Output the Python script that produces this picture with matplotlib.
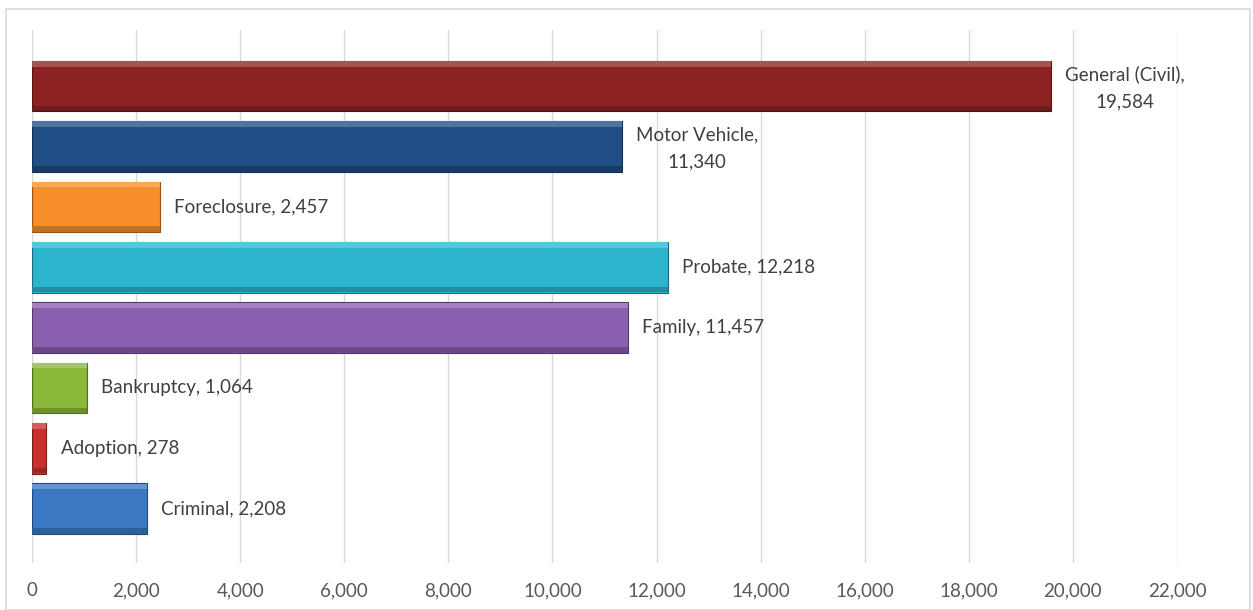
import matplotlib
matplotlib.use('Agg')
from matplotlib import pyplot as plt
from matplotlib.patches import Rectangle
from matplotlib.ticker import FuncFormatter
import numpy as np

plt.rcParams['font.family'] = ['Lato', 'DejaVu Sans']

# bottom to top
categories = ['Criminal', 'Adoption', 'Bankruptcy', 'Family', 'Probate',
              'Foreclosure', 'Motor Vehicle', 'General (Civil)']
values = [2208, 278, 1064, 11457, 12218, 2457, 11340, 19584]
colors = ['#3a78c4', '#c8302f', '#8ab838', '#8a5fb0', '#2cb4cf',
          '#f78f2a', '#1f4d84', '#8c2222']
two_line = ['Motor Vehicle', 'General (Civil)']


def shade(c, f):
    rgb = np.array(matplotlib.colors.to_rgb(c))
    if f > 0:
        rgb = rgb + (1 - rgb) * f
    else:
        rgb = rgb * (1 + f)
    return tuple(rgb)


fig = plt.figure(figsize=(12.53, 6.10), dpi=100)
fig.add_artist(Rectangle((6 / 1253, 0.0), 1244 / 1253, 601 / 610,
                         transform=fig.transFigure, fill=False,
                         edgecolor='#d9d9d9', linewidth=1.2))
ax = fig.add_axes([32 / 1253, 47 / 610, 1145 / 1253, 533 / 610])

y = np.arange(len(categories))
h = 0.84
ax.barh(y, values, h, color=colors, edgecolor=[shade(c, -0.4) for c in colors],
        linewidth=0.8, zorder=3)
# bevel: light top strip, dark bottom strip
ax.barh(y + h / 2 - 0.05, values, 0.09, color=[shade(c, 0.22) for c in colors],
        linewidth=0, zorder=4)
ax.barh(y - h / 2 + 0.05, values, 0.09, color=[shade(c, -0.22) for c in colors],
        linewidth=0, zorder=4)

for yi, cat, v in zip(y, categories, values):
    if cat in two_line:
        txt = f'{cat},\n{v:,}'
        ax.text(v + 270, yi - 0.03, txt, ha='left', va='center', multialignment='center',
                fontsize=13.5, color='#404040', linespacing=1.75, zorder=5)
    else:
        ax.text(v + 270, yi, f'{cat}, {v:,}', ha='left', va='center',
                fontsize=13.5, color='#404040', zorder=5)

ax.set_xlim(0, 22000)
ax.set_ylim(-0.9, 7.93)
ax.set_xticks(np.arange(0, 22001, 2000))
ax.xaxis.set_major_formatter(FuncFormatter(lambda v, p: f'{int(v):,}'))
ax.set_yticks([])
ax.grid(axis='x', color='#d9d9d9', linewidth=1, zorder=0)
ax.tick_params(axis='x', length=0, pad=14, labelsize=13.5, labelcolor='#595959')
for s in ax.spines.values():
    s.set_visible(False)

fig.savefig('out.png', dpi=100)
